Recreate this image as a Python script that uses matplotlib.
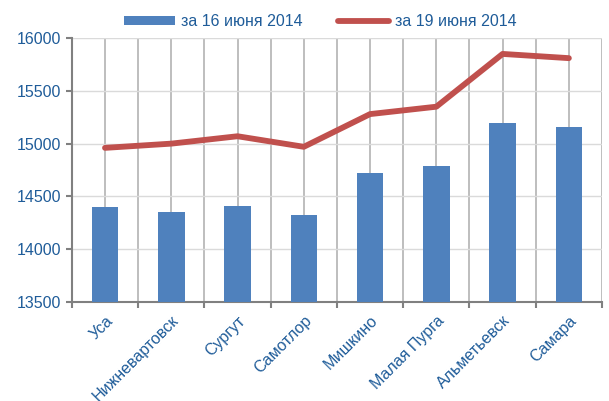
import matplotlib.pyplot as plt
import matplotlib.transforms as mtransforms
import numpy as np

# ================== DATA ==================
cities = ["Уса", "Нижневартовск", "Сургут", "Самотлор",
          "Мишкино", "Малая Пурга", "Альметьевск", "Самара"]
price_16 = [14400, 14350, 14410, 14320, 14720, 14790, 15200, 15160]
price_19 = [14960, 15000, 15070, 14970, 15280, 15350, 15850, 15810]
label_16 = "за 16 июня 2014"
label_19 = "за 19 июня 2014"

# ================== STYLE ==================
plt.rcParams["font.family"] = ["Liberation Sans", "DejaVu Sans"]
txt_color = "#1F5C99"
bar_color = "#4F81BD"
line_color = "#C0504D"

fig = plt.figure(figsize=(6.09, 4.01), dpi=100)
ax = fig.add_axes([0.118, 0.247, 0.8705, 0.658])

x = np.arange(len(cities))
bars = ax.bar(x, np.array(price_16) - 13500, bottom=13500, width=0.4,
              color=bar_color, zorder=3)
line, = ax.plot(x, price_19, color=line_color, linewidth=4.2,
                solid_capstyle="round", zorder=4)

ax.set_ylim(13500, 16000)
ax.set_xlim(-0.5, len(cities) - 0.5)
ax.set_yticks(np.arange(13500, 16001, 500))

# вертикальная сетка: центры и границы категорий
ax.set_xticks(x)
ax.set_xticks(np.arange(-0.5, len(cities), 1), minor=True)
ax.grid(axis="x", which="both", color="#B3B3B3", linewidth=1.2, zorder=0)
ax.grid(axis="y", color="#DADADA", linewidth=1.0, zorder=0)

ax.set_xticklabels(cities, rotation=45, ha="right", rotation_mode="anchor",
                   color=txt_color, fontsize=11.5)
shift = mtransforms.ScaledTranslation(-5 / 100, -3 / 100, fig.dpi_scale_trans)
for lbl in ax.get_xticklabels():
    lbl.set_transform(lbl.get_transform() + shift)
ax.tick_params(axis="x", which="major", length=0, pad=8)
ax.tick_params(axis="x", which="minor", length=4, color="#808080", width=1.5)
ax.tick_params(axis="y", length=4, color="#808080", width=1.5,
               labelcolor=txt_color, labelsize=11.5)

for side in ["top", "right"]:
    ax.spines[side].set_visible(False)
for side in ["left", "bottom"]:
    ax.spines[side].set_color("#808080")
    ax.spines[side].set_linewidth(1.5)

leg = fig.legend([bars, line], [label_16, label_19],
                 loc="upper center", bbox_to_anchor=(0.526, 1.0), ncol=2,
                 frameon=False, fontsize=11.5, handlelength=3.2,
                 handleheight=0.5, columnspacing=2.2, handletextpad=0.4)
for t in leg.get_texts():
    t.set_color(txt_color)

fig.savefig("out.png", dpi=100)
